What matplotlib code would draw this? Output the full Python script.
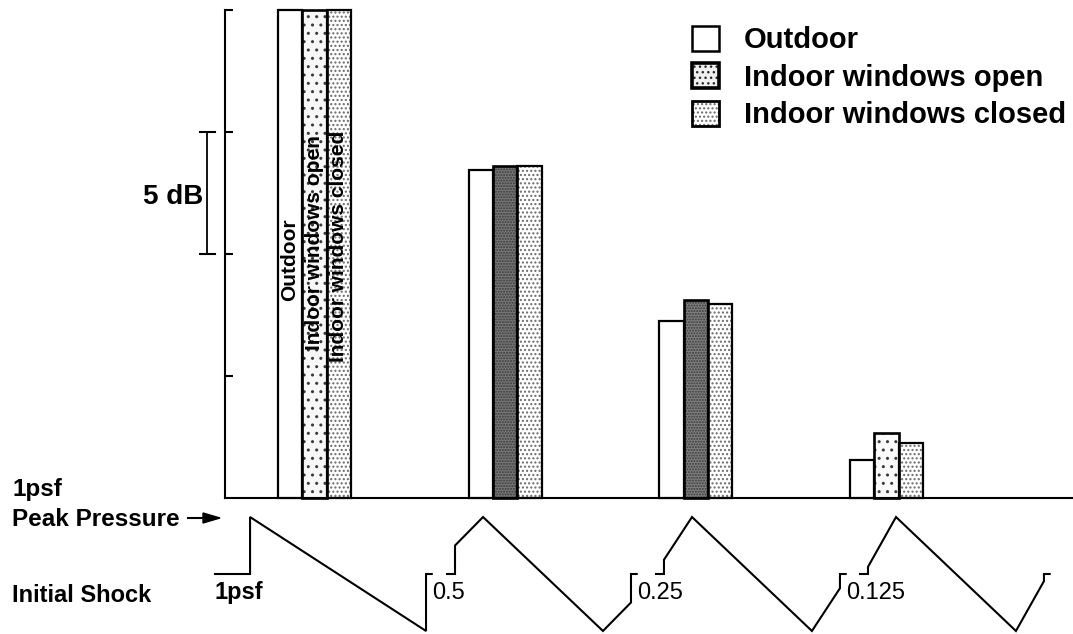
import numpy as np
import matplotlib.pyplot as plt
from matplotlib.patches import Patch
from matplotlib.transforms import blended_transform_factory

plt.rcParams['font.family'] = ['Liberation Sans', 'DejaVu Sans']
plt.rcParams['hatch.linewidth'] = 1.0

# --- data (dB; 5 dB per tick) ---
groups = np.arange(4)
series = ['Outdoor', 'Indoor windows open', 'Indoor windows closed']
outdoor_db = [20.0, 13.45, 7.25, 1.55]
open_db = [20.0, 13.6, 8.1, 2.65]
closed_db = [20.0, 13.6, 7.95, 2.25]

# initial shock of each boom (peak pressure is always 1 psf)
shock_psf = [1.0, 0.5, 0.25, 0.125]
shock_labels = ['1psf', '0.5', '0.25', '0.125']

# --- layout ---
W, H = 1073, 634
bw = 0.128
open_shade = ['#f7f7f7', '#777777', '#7f7f7f', '#fafafa']
open_hatch = ['..', '......', '......', '..']
wave_start = [-0.338, 0.737, 1.833, 2.903]
wave_lead = [0.184, 0.042, 0.042, 0.042]
wave_len = 0.923
rise = 0.147

fig = plt.figure(figsize=(W / 100, H / 100), dpi=100)
ax = fig.add_axes([225 / W, 1 - 498 / H, 848 / W, 488 / H])
ax.set_xlim(-0.4694, 3.9783)
ax.set_ylim(0, 20)

# outdoor
ax.bar(groups - bw, outdoor_db, width=bw, color='white', edgecolor='black',
       linewidth=1.6, zorder=3, clip_on=False)
# windows open: speckled
ax.bar(groups, open_db, width=bw, color=open_shade, hatch=open_hatch,
       edgecolor='#3a3a3a', linewidth=0, zorder=2, clip_on=False)
ax.bar(groups, open_db, width=bw, fill=False, edgecolor='black',
       linewidth=1.9, zorder=3, clip_on=False)
# windows closed: fine dots
ax.bar(groups + bw, closed_db, width=bw, color='white', hatch='....',
       edgecolor='#6a6a6a', linewidth=0, zorder=2, clip_on=False)
ax.bar(groups + bw, closed_db, width=bw, fill=False, edgecolor='black',
       linewidth=1.6, zorder=3, clip_on=False)

# labels written inside the first group
lab_y = [9.75, 10.45, 10.3]
for k, name in enumerate(series):
    ax.text(groups[0] + (k - 1) * bw, lab_y[k], name, rotation=90,
            ha='center', va='center', fontsize=15, fontweight='bold',
            zorder=4)

for s in ['top', 'right']:
    ax.spines[s].set_visible(False)
for s in ['left', 'bottom']:
    ax.spines[s].set_linewidth(1.5)
ax.set_xticks([])
ax.set_yticks([5, 10, 15, 20])
ax.set_yticklabels([])
ax.tick_params(axis='y', direction='in', length=6, width=1.5)

# 5 dB scale bracket
tr = blended_transform_factory(ax.transAxes, ax.transData)
ax.plot([-0.0212, -0.0212], [10, 15], color='black', lw=1.3,
        transform=tr, clip_on=False)
for yv in (10, 15):
    ax.plot([-0.0295, -0.0118], [yv, yv], color='black', lw=1.5,
            transform=tr, clip_on=False)
ax.text(-0.026, 12.35, '5 dB', transform=tr, ha='right', va='center',
        fontsize=20, fontweight='bold')

# legend
handles = [
    (Patch(facecolor='white', edgecolor='black', linewidth=1.8),),
    (Patch(facecolor='#f0f0f0', hatch='...', edgecolor='#2a2a2a', linewidth=0),
     Patch(fill=False, edgecolor='black', linewidth=2.6)),
    (Patch(facecolor='white', hatch='....', edgecolor='#6a6a6a', linewidth=0),
     Patch(fill=False, edgecolor='black', linewidth=2.0)),
]
ax.legend(handles, series, loc='upper left',
          bbox_to_anchor=(692 / W, 1 - 26 / H), bbox_transform=fig.transFigure,
          frameon=False, borderpad=0, borderaxespad=0,
          handlelength=0.93, handleheight=0.93, handletextpad=0.85,
          labelspacing=0.31, prop={'size': 21, 'weight': 'bold'})

# --- pressure signatures below the bars ---
axw = fig.add_axes([225 / W, 0, 848 / W, 129 / H], sharex=ax)
axw.set_ylim(-1.053, 1.211)
axw.axis('off')
for i, s in enumerate(shock_psf):
    t0 = wave_start[i]
    r = 0.0 if s >= 1 else rise
    t1 = t0 + wave_len
    xs = [t0 - wave_lead[i], t0, t0, t0 + r, t1 - r, t1, t1, t1 + 0.03]
    ys = [0, 0, s, 1, -1, -s, 0, 0]
    axw.plot(xs, ys, color='black', lw=1.5, clip_on=False,
             solid_joinstyle='miter')
    if i == 0:
        lx = t0 - wave_lead[i]
        fw = 'bold'
    else:
        lx = wave_start[i - 1] + wave_len + 0.031
        fw = 'normal'
    axw.text(lx, -0.33, shock_labels[i], ha='left', va='center',
             fontsize=17, fontweight=fw, clip_on=False)

# left-hand captions
fig.text(12 / W, 1 - 496 / H, '1psf', fontsize=17.5, fontweight='bold',
         va='baseline')
fig.text(12 / W, 1 - 526 / H, 'Peak Pressure', fontsize=17.5,
         fontweight='bold', va='baseline')
fig.text(12 / W, 1 - 602 / H, 'Initial Shock', fontsize=17,
         fontweight='bold', va='baseline')
fig.add_artist(plt.Line2D([188 / W, 205 / W], [1 - 518 / H, 1 - 518 / H],
                          color='black', lw=1.5))
fig.patches.append(plt.Polygon([[203 / W, 1 - 513 / H], [220 / W, 1 - 518 / H],
                                [203 / W, 1 - 523 / H]], closed=True,
                               color='black', transform=fig.transFigure,
                               figure=fig))

fig.savefig('out.png', dpi=100)
